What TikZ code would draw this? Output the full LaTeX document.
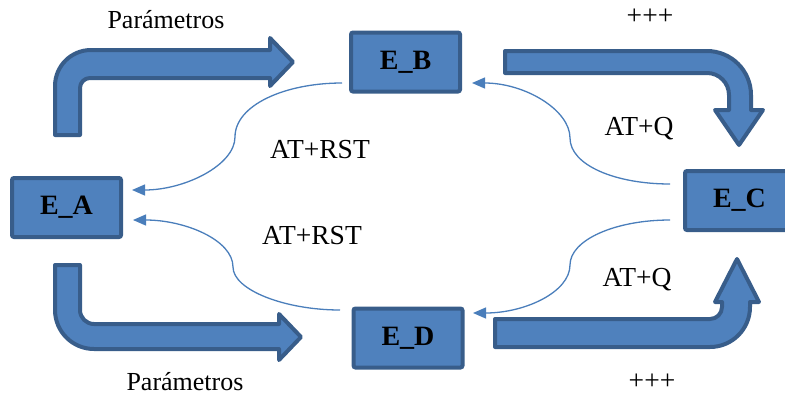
\documentclass[tikz,border=0pt]{standalone}
\usepackage{fontspec}
\setmainfont{Liberation Serif}
\usetikzlibrary{arrows.meta}
\definecolor{boxfill}{HTML}{4F81BD}
\definecolor{boxline}{HTML}{385D8A}
\definecolor{linkblue}{HTML}{4A7EBB}
\begin{document}
\begin{tikzpicture}[x=1pt,y=-1pt,
  state/.style={draw=boxline, fill=boxfill, line width=4pt, rounded corners=2pt,
    minimum width=109pt, minimum height=59pt, inner sep=0pt,
    font=\fontsize{28}{32}\selectfont\bfseries},
  bent/.style={draw=boxline, fill=boxfill, line width=4pt, line join=round},
  link/.style={draw=linkblue, line width=1.3pt, -{Triangle[length=13pt,width=11pt]}},
  lbl/.style={font=\fontsize{27.5}{32}\selectfont, inner sep=0pt},
  param/.style={font=\fontsize{26}{30}\selectfont, inner sep=0pt}]
\useasboundingbox (0,0) rectangle (785,397);
\clip (0,0) rectangle (785,397);

% state boxes
\node[state] (A) at (66.5,207.5) {E\_A};
\node[state] (B) at (405.5,62) {E\_B};
\node[state] (C) at (739.5,200.5) {E\_C};
\node[state] (D) at (408,338) {E\_D};

% bent block arrows
\path[bent] (55,135) -- (55,86) arc[start angle=180,end angle=90,radius=36pt]
  -- (270,50) -- (270,38) -- (293,62) -- (270,86) -- (270,78) -- (90,78)
  arc[start angle=90,end angle=180,radius=10pt] -- (80,135) -- cycle;
\path[bent] (505,51) -- (707,51) arc[start angle=90,end angle=0,radius=44pt]
  -- (751,110) -- (763,110) -- (739,145) -- (715,110) -- (729,110) -- (729,95)
  arc[start angle=0,end angle=90,radius=22pt] -- (505,73) -- cycle;
\path[bent] (55,265) -- (55,310) arc[start angle=180,end angle=270,radius=39pt]
  -- (279,349) -- (279,360) -- (301,337) -- (279,314) -- (279,324) -- (94,324)
  arc[start angle=270,end angle=180,radius=14pt] -- (80,265) -- cycle;
\path[bent] (495,319) -- (710,319) arc[start angle=270,end angle=360,radius=12pt]
  -- (722,302) -- (715,302) -- (737,259) -- (759,302) -- (750,302) -- (750,307)
  arc[start angle=0,end angle=-90,radius=40pt] -- (495,347) -- cycle;

% connector ends
\coordinate (b1) at (342,83);
\coordinate (a1) at (132,190);
\coordinate (d1) at (340,310);
\coordinate (a2) at (133,220);
\coordinate (c1) at (670,184);
\coordinate (b2) at (472,83);
\coordinate (c2) at (670,220);
\coordinate (d2) at (473,313);

% curved connectors
\draw[link] (b1) .. controls (285,83) and (235,105) .. (235,137)
  .. controls (235,165) and (185,190) .. (a1);
\draw[link] (d1) .. controls (285,310) and (233,290) .. (233,267)
  .. controls (233,240) and (185,220) .. (a2);
\draw[link] (c1) .. controls (615,184) and (570,165) .. (570,138)
  .. controls (570,110) and (525,83) .. (b2);
\draw[link] (c2) .. controls (615,220) and (570,240) .. (570,265)
  .. controls (570,292) and (525,313) .. (d2);

% labels
\node[param] (p1) at (166,20) {Parámetros};
\node[param] (p2) at (185,382) {Parámetros};
\node[lbl] (q1) at (650,17) {+++};
\node[lbl] (q2) at (652,382) {+++};
\node[lbl] (r1) at (320,150) {AT+RST};
\node[lbl] (r2) at (312,236) {AT+RST};
\node[lbl] (s1) at (639,129) {AT+Q};
\node[lbl] (s2) at (637,280) {AT+Q};
\end{tikzpicture}
\end{document}
